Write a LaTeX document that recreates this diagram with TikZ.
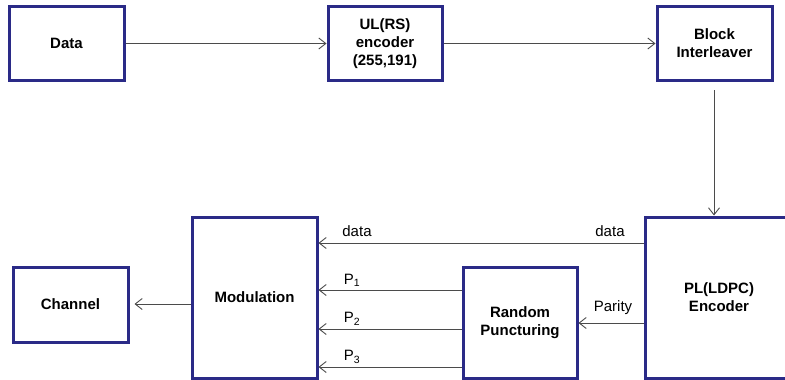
\documentclass[tikz,border=0pt]{standalone}
\usepackage{fontspec}
\setmainfont{Liberation Sans}
\usepackage{xcolor}
\usetikzlibrary{arrows.meta, positioning, calc}
\definecolor{boxnavy}{RGB}{42,42,135}
\definecolor{linegray}{RGB}{75,75,75}
\tikzstyle{block} = [rectangle, draw=boxnavy, line width=3pt, inner sep=0pt,
    align=center, font=\fontsize{15}{18}\selectfont\bfseries]
\tikzstyle{arrow} = [draw=linegray, line width=0.9pt,
    -{Straight Barb[length=7pt, width=11pt, line width=0.9pt]}]
\tikzstyle{lbl} = [font=\fontsize{15}{18}\selectfont, inner sep=0pt]

\begin{document}
\begin{tikzpicture}[x=1pt, y=-1pt]
  \useasboundingbox (0,0) rectangle (785,380);
  \clip (0,0) rectangle (785,380);
  % Upper row
  \node[block, minimum width=115pt, minimum height=74pt] (data) at (66.5,43.5) {Data};
  \node[block, minimum width=114pt, minimum height=74pt] (rs) at (385,43.5) {UL(RS)\\encoder\\(255,191)};
  \node[block, minimum width=115pt, minimum height=74pt] (intl) at (714.5,43.5) {Block\\Interleaver};
  % Lower row
  \node[block, minimum width=148pt, minimum height=161pt] (ldpc) at (719,297.5) {PL(LDPC)\\Encoder};
  \node[block, minimum width=114pt, minimum height=111pt] (punc) at (520,322.5) {Random\\Puncturing};
  \node[block, minimum width=125pt, minimum height=161pt] (mod) at (254.5,297.5) {Modulation};
  \node[block, minimum width=115pt, minimum height=75pt] (chan) at (70.5,304.5) {Channel};

  \draw[arrow] (data) -- (rs);
  \draw[arrow] (rs) -- (intl);
  \draw[arrow, shorten <=8pt] (intl.south -| 714,0) -- (ldpc.north -| 714,0);
  \draw[arrow] (ldpc.west |- 0,243) -- (mod.east |- 0,243);
  \draw[arrow] (ldpc.west |- 0,323) -- (punc.east |- 0,323);
  \draw[arrow] (punc.west |- 0,290) -- (mod.east |- 0,290);
  \draw[arrow] (punc.west |- 0,329) -- (mod.east |- 0,329);
  \draw[arrow] (punc.west |- 0,367) -- (mod.east |- 0,367);
  \draw[arrow, shorten >=5pt] (mod.west |- 0,304) -- (chan.east |- 0,304);

  % Line labels
  \node[lbl] (dl) at (357,231) {data};
  \node[lbl] (dr) at (610,231) {data};
  \node[lbl] (p1) at (352,280) {P\textsubscript{1}};
  \node[lbl] (p2) at (352,319) {P\textsubscript{2}};
  \node[lbl] (p3) at (352,357) {P\textsubscript{3}};
  \node[lbl] (par) at (613,308) {Parity};
\end{tikzpicture}
\end{document}
